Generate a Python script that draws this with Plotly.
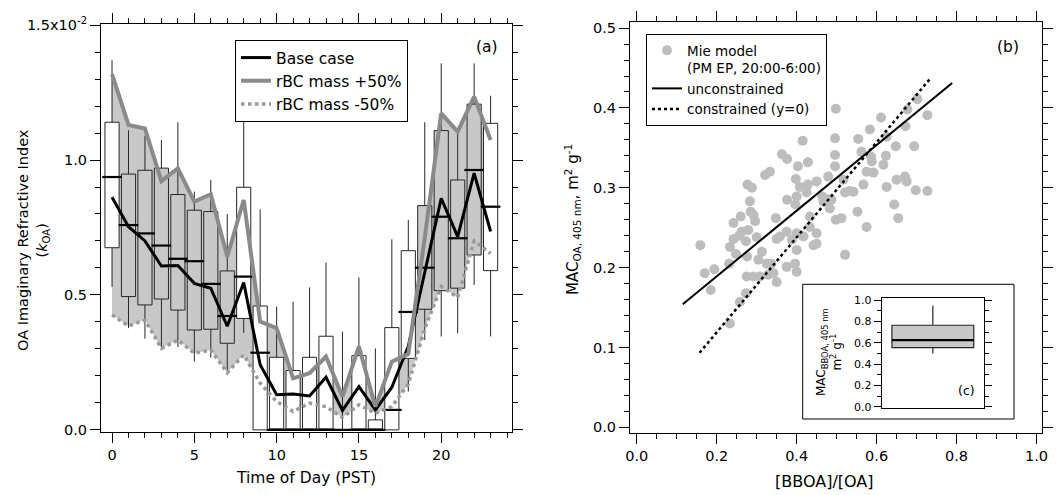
import plotly.graph_objects as go

# ---------------- Panel (a) data ----------------
hours = list(range(24))
box_q1 = [0.675, 0.494, 0.463, 0.485, 0.444, 0.370, 0.373, 0.321, 0.413, 0.0, 0.0, 0.0,
          0.0, 0.0, 0.0, 0.0, 0.0, 0.0, 0.265, 0.447, 0.516, 0.525, 0.648, 0.590]
box_med = [0.937, 0.759, 0.728, 0.683, 0.634, 0.625, 0.541, 0.422, 0.568, 0.286, 0.0, 0.0,
           0.0, 0.0, 0.0, 0.0, 0.0, 0.074, 0.437, 0.601, 0.790, 0.710, 0.963, 0.827]
box_q3 = [1.140, 0.948, 0.962, 0.970, 0.872, 0.814, 0.809, 0.589, 0.899, 0.459, 0.269, 0.220,
          0.269, 0.347, 0.0, 0.275, 0.037, 0.379, 0.664, 0.831, 1.109, 0.926, 1.207, 1.136]
whisk_lo = [0.530, 0.377, 0.338, 0.300, 0.307, 0.253, 0.267, 0.222, 0.359, 0.0, 0.0, 0.0,
            0.0, 0.0, 0.0, 0.0, 0.0, 0.0, 0.142, 0.333, 0.346, 0.358, 0.537, 0.346]
whisk_hi = [1.370, 1.110, 1.090, 1.074, 1.140, 0.883, 0.926, 0.800, 1.160, 0.817, 0.457, 0.475,
            0.528, 0.620, 0.364, 0.565, 0.302, 0.706, 0.778, 1.140, 1.358, 1.100, 1.358, 1.238]
box_white = [True, False, False, False, False, False, False, False, True, True, True, True,
             True, True, True, True, True, True, True, False, False, False, False, True]

base_case = [0.862, 0.753, 0.700, 0.607, 0.609, 0.543, 0.525, 0.384, 0.546, 0.241, 0.130, 0.133,
             0.126, 0.195, 0.072, 0.160, 0.074, 0.158, 0.310, 0.580, 0.858, 0.716, 0.951, 0.735]
rbc_plus50 = [1.318, 1.130, 1.117, 0.922, 0.969, 0.846, 0.873, 0.642, 0.852, 0.401, 0.377, 0.191,
              0.210, 0.272, 0.123, 0.309, 0.086, 0.253, 0.282, 0.711, 1.173, 1.105, 1.235, 1.074]
rbc_minus50 = [0.426, 0.385, 0.407, 0.302, 0.333, 0.284, 0.296, 0.212, 0.278, 0.173, 0.105, 0.068,
               0.099, 0.086, 0.046, 0.093, 0.062, 0.086, 0.170, 0.375, 0.531, 0.491, 0.700, 0.654]

# ---------------- Panel (b) data ----------------
bboa_frac = [0.498, 0.611, 0.727, 0.702, 0.672, 0.677, 0.694, 0.648, 0.625, 0.583,
             0.554, 0.496, 0.415, 0.363, 0.376, 0.428, 0.403, 0.496, 0.496, 0.562,
             0.586, 0.588, 0.623, 0.617, 0.575, 0.592, 0.479, 0.517, 0.450, 0.398,
             0.333, 0.321, 0.277, 0.288, 0.428, 0.408, 0.567, 0.625, 0.671, 0.675,
             0.650, 0.698, 0.727, 0.521, 0.542, 0.532, 0.425, 0.400, 0.376, 0.464,
             0.487, 0.467, 0.283, 0.397, 0.644, 0.552, 0.498, 0.512, 0.654, 0.575,
             0.348, 0.285, 0.260, 0.242, 0.433, 0.242, 0.256, 0.279, 0.300, 0.350,
             0.159, 0.233, 0.442, 0.170, 0.194, 0.185, 0.231, 0.248, 0.262, 0.292,
             0.296, 0.273, 0.276, 0.313, 0.304, 0.337, 0.342, 0.350, 0.375, 0.396,
             0.400, 0.388, 0.400, 0.417, 0.450, 0.450, 0.433, 0.375, 0.358, 0.275,
             0.292, 0.308, 0.258, 0.273, 0.233, 0.325, 0.521, 0.329, 0.400, 0.483,
             0.475]
mac_oa = [0.399, 0.388, 0.391, 0.411, 0.377, 0.398, 0.352, 0.352, 0.364, 0.373,
          0.361, 0.362, 0.359, 0.342, 0.336, 0.332, 0.327, 0.341, 0.327, 0.345,
          0.339, 0.333, 0.340, 0.329, 0.320, 0.319, 0.314, 0.310, 0.308, 0.311,
          0.320, 0.316, 0.304, 0.300, 0.304, 0.301, 0.304, 0.301, 0.314, 0.308,
          0.310, 0.297, 0.296, 0.294, 0.295, 0.296, 0.294, 0.289, 0.285, 0.289,
          0.285, 0.283, 0.283, 0.279, 0.279, 0.270, 0.260, 0.262, 0.262, 0.251,
          0.262, 0.270, 0.264, 0.256, 0.251, 0.236, 0.240, 0.247, 0.238, 0.236,
          0.228, 0.226, 0.228, 0.193, 0.198, 0.172, 0.205, 0.217, 0.245, 0.266,
          0.258, 0.233, 0.214, 0.220, 0.210, 0.205, 0.193, 0.182, 0.201, 0.205,
          0.195, 0.235, 0.243, 0.239, 0.230, 0.243, 0.264, 0.245, 0.239, 0.189,
          0.189, 0.189, 0.157, 0.168, 0.130, 0.205, 0.216, 0.191, 0.222, 0.274,
          0.286]

# linear fits
unc_slope, unc_intercept = 0.411, 0.107
unc_xrange = [0.115, 0.789]
con_slope = 0.595
con_xrange = [0.157, 0.733]

# ---------------- Panel (c) data ----------------
inset_q1, inset_med, inset_q3 = 0.555, 0.625, 0.765
inset_lo, inset_hi = 0.50, 0.95
inset_box_width = 0.8

FONT = "DejaVu Sans"
BAND = "#c8c8c8"
GREYLINE = "#8a8a8a"

fig = go.Figure()

# band (base axes, drawn beneath boxes)
fig.add_trace(go.Scatter(x=hours, y=rbc_minus50, mode="lines", line=dict(width=0, color=BAND),
                         showlegend=False, hoverinfo="skip", xaxis="x", yaxis="y"))
fig.add_trace(go.Scatter(x=hours, y=rbc_plus50, mode="lines", line=dict(width=0, color=BAND),
                         fill="tonexty", fillcolor=BAND, showlegend=False, hoverinfo="skip",
                         xaxis="x", yaxis="y"))

# boxes (overlay axes)
for flag, fcol in [(True, "white"), (False, BAND)]:
    idx = [i for i in hours if box_white[i] == flag]
    fig.add_trace(go.Box(
        x=[hours[i] for i in idx],
        q1=[box_q1[i] for i in idx], median=[box_med[i] for i in idx], q3=[box_q3[i] for i in idx],
        lowerfence=[whisk_lo[i] for i in idx], upperfence=[whisk_hi[i] for i in idx],
        width=0.86, fillcolor=fcol, line=dict(color="#262626", width=1), whiskerwidth=0,
        boxpoints=False, showlegend=False, xaxis="x3", yaxis="y3"))

# median marks
fig.add_trace(go.Scatter(x=hours, y=box_med, mode="markers",
                         marker=dict(symbol="line-ew-open", size=14, color="black",
                                     line=dict(width=2.2, color="black")),
                         showlegend=False, cliponaxis=False, xaxis="x3", yaxis="y3"))

# lines
fig.add_trace(go.Scatter(x=hours, y=base_case, mode="lines", name="Base case",
                         line=dict(color="black", width=3), xaxis="x3", yaxis="y3", legend="legend"))
fig.add_trace(go.Scatter(x=hours, y=rbc_plus50, mode="lines", name="rBC mass +50%",
                         line=dict(color=GREYLINE, width=4), xaxis="x3", yaxis="y3", legend="legend"))
fig.add_trace(go.Scatter(x=hours, y=rbc_minus50, mode="lines", name="rBC mass -50%",
                         line=dict(color="#9a9a9a", width=3.5, dash="dot"), xaxis="x3", yaxis="y3",
                         legend="legend"))

# panel (b)
fig.add_trace(go.Scatter(x=bboa_frac, y=mac_oa, mode="markers", name="Mie model<br>(PM EP, 20:00-6:00)",
                         marker=dict(color="#bdbdbd", size=10), xaxis="x2", yaxis="y2", legend="legend2"))
fig.add_trace(go.Scatter(x=unc_xrange, y=[unc_intercept + unc_slope * v for v in unc_xrange],
                         mode="lines", name="unconstrained", line=dict(color="black", width=2),
                         xaxis="x2", yaxis="y2", legend="legend2"))
fig.add_trace(go.Scatter(x=con_xrange, y=[con_slope * v for v in con_xrange],
                         mode="lines", name="constrained (y=0)",
                         line=dict(color="black", width=2.5, dash="3px,3px"),
                         xaxis="x2", yaxis="y2", legend="legend2"))

# inset (c)
fig.add_trace(go.Box(x=[0], q1=[inset_q1], median=[inset_med], q3=[inset_q3],
                     lowerfence=[inset_lo], upperfence=[inset_hi], width=inset_box_width,
                     fillcolor=BAND, line=dict(color="#262626", width=1.2), whiskerwidth=0,
                     boxpoints=False, showlegend=False, xaxis="x4", yaxis="y4"))
fig.add_trace(go.Scatter(x=[-inset_box_width / 2, inset_box_width / 2], y=[inset_med, inset_med],
                         mode="lines", line=dict(color="black", width=2.2), showlegend=False,
                         xaxis="x4", yaxis="y4"))

tickfont = dict(family=FONT, size=14.5, color="black")
common = dict(showline=True, linecolor="black", linewidth=1, mirror="allticks", ticks="outside",
              ticklen=10, tickwidth=1, tickcolor="black", showgrid=False, zeroline=False,
              tickfont=tickfont, automargin=False)

dom_ax = [101 / 1059, 512 / 1059]
dom_ay = [1 - 431.5 / 495, 1 - 24 / 495]
rng_ax = [-0.67, 24.3]
rng_ay = [-0.006, 1.504]


def ann(text, px, py, size, angle=0):
    return dict(text=text, x=px / 1059, y=1 - py / 495, xref="paper", yref="paper",
                xanchor="center", yanchor="middle", showarrow=False, textangle=angle,
                font=dict(family=FONT, size=size, color="black"))


fig.update_layout(
    template="none",
    width=1059, height=495, margin=dict(l=0, r=0, t=0, b=0, pad=0, autoexpand=False),
    paper_bgcolor="white", plot_bgcolor="rgba(0,0,0,0)",
    boxmode="overlay",
    font=dict(family=FONT, size=14, color="black"),
    xaxis=dict(common, domain=dom_ax, range=rng_ax, tickmode="linear", tick0=0, dtick=5,
               minor=dict(ticks="outside", ticklen=5, tickmode="linear", tick0=0, dtick=1,
                          tickcolor="black", showgrid=False), anchor="y"),
    yaxis=dict(common, domain=dom_ay, range=rng_ay, tickmode="array", tickvals=[0, 0.5, 1.0, 1.5],
               ticktext=["0.0", "0.5", "1.0", "1.5x10<sup>-2</sup>"],
               minor=dict(ticks="outside", ticklen=5, tickmode="linear", tick0=0, dtick=0.1,
                          tickcolor="black", showgrid=False), anchor="x"),
    xaxis3=dict(overlaying="x", range=rng_ax, visible=False, anchor="y3", automargin=False),
    yaxis3=dict(overlaying="y", range=rng_ay, visible=False, anchor="x3", automargin=False),
    xaxis2=dict(common, domain=[630 / 1059, 1041.7 / 1059], range=[-0.017, 1.013],
                tickmode="linear", tick0=0, dtick=0.2, tickformat=".1f",
                minor=dict(ticks="outside", ticklen=5, tickmode="linear", tick0=0, dtick=0.05,
                           tickcolor="black", showgrid=False), anchor="y2"),
    yaxis2=dict(common, domain=[1 - 432.7 / 495, 1 - 21.7 / 495], range=[-0.0067, 0.508],
                tickmode="linear", tick0=0, dtick=0.1, tickformat=".1f",
                minor=dict(ticks="outside", ticklen=5, tickmode="linear", tick0=0, dtick=0.02,
                           tickcolor="black", showgrid=False), anchor="x2"),
    xaxis4=dict(domain=[881.7 / 1059, 984 / 1059], range=[-0.5, 0.5], showline=True, mirror=True,
                linecolor="black", linewidth=1, ticks="", showticklabels=False, showgrid=False,
                zeroline=False, anchor="y4", automargin=False),
    yaxis4=dict(common, domain=[1 - 407.7 / 495, 1 - 297.7 / 495], range=[-0.0094, 1.024],
                tickmode="linear", tick0=0, dtick=0.2, tickformat=".1f", ticklen=7,
                tickfont=dict(family=FONT, size=11, color="black"),
                minor=dict(ticks="outside", ticklen=4, tickmode="linear", tick0=0, dtick=0.1,
                           tickcolor="black", showgrid=False), anchor="x4"),
    legend=dict(x=235 / 1059, y=1 - 40 / 495, xanchor="left", yanchor="top", bgcolor="white",
                bordercolor="black", borderwidth=1, font=dict(family=FONT, size=15.5),
                traceorder="normal", tracegroupgap=0, itemwidth=30),
    legend2=dict(x=646 / 1059, y=1 - 34 / 495, xanchor="left", yanchor="top", bgcolor="white",
                 bordercolor="black", borderwidth=1, font=dict(family=FONT, size=13.5),
                 traceorder="normal", valign="top", itemwidth=30),
    shapes=[dict(type="rect", xref="paper", yref="paper", x0=802.7 / 1059, x1=1014 / 1059,
                 y0=1 - 419 / 495, y1=1 - 284.3 / 495, line=dict(color="black", width=1),
                 fillcolor="rgba(0,0,0,0)", layer="above")],
    annotations=[
        ann("(a)", 487, 47, 15.5),
        ann("(b)", 1008, 47, 15.5),
        ann("(c)", 966, 390, 12.5),
        ann("OA Imaginary Refractive Index<br>(<i>k</i><sub>OA</sub>)", 33, 240, 14.5, -90),
        ann("Time of Day (PST)", 306, 478, 15.5),
        ann("MAC<sub>OA, 405 nm</sub>, m<sup>2</sup> g<sup>-1</sup>", 572, 220, 15, -90),
        ann("[BBOA]/[OA]", 824, 481, 16),
        ann("MAC<sub>BBOA, 405 nm</sub><br>m<sup>2</sup> g<sup>-1</sup>", 829, 352, 12, -90),
    ],
)

fig.write_html("out.html", config={"displayModeBar": False},
               post_script="document.body.style.margin='0px';document.body.style.overflow='hidden';")
